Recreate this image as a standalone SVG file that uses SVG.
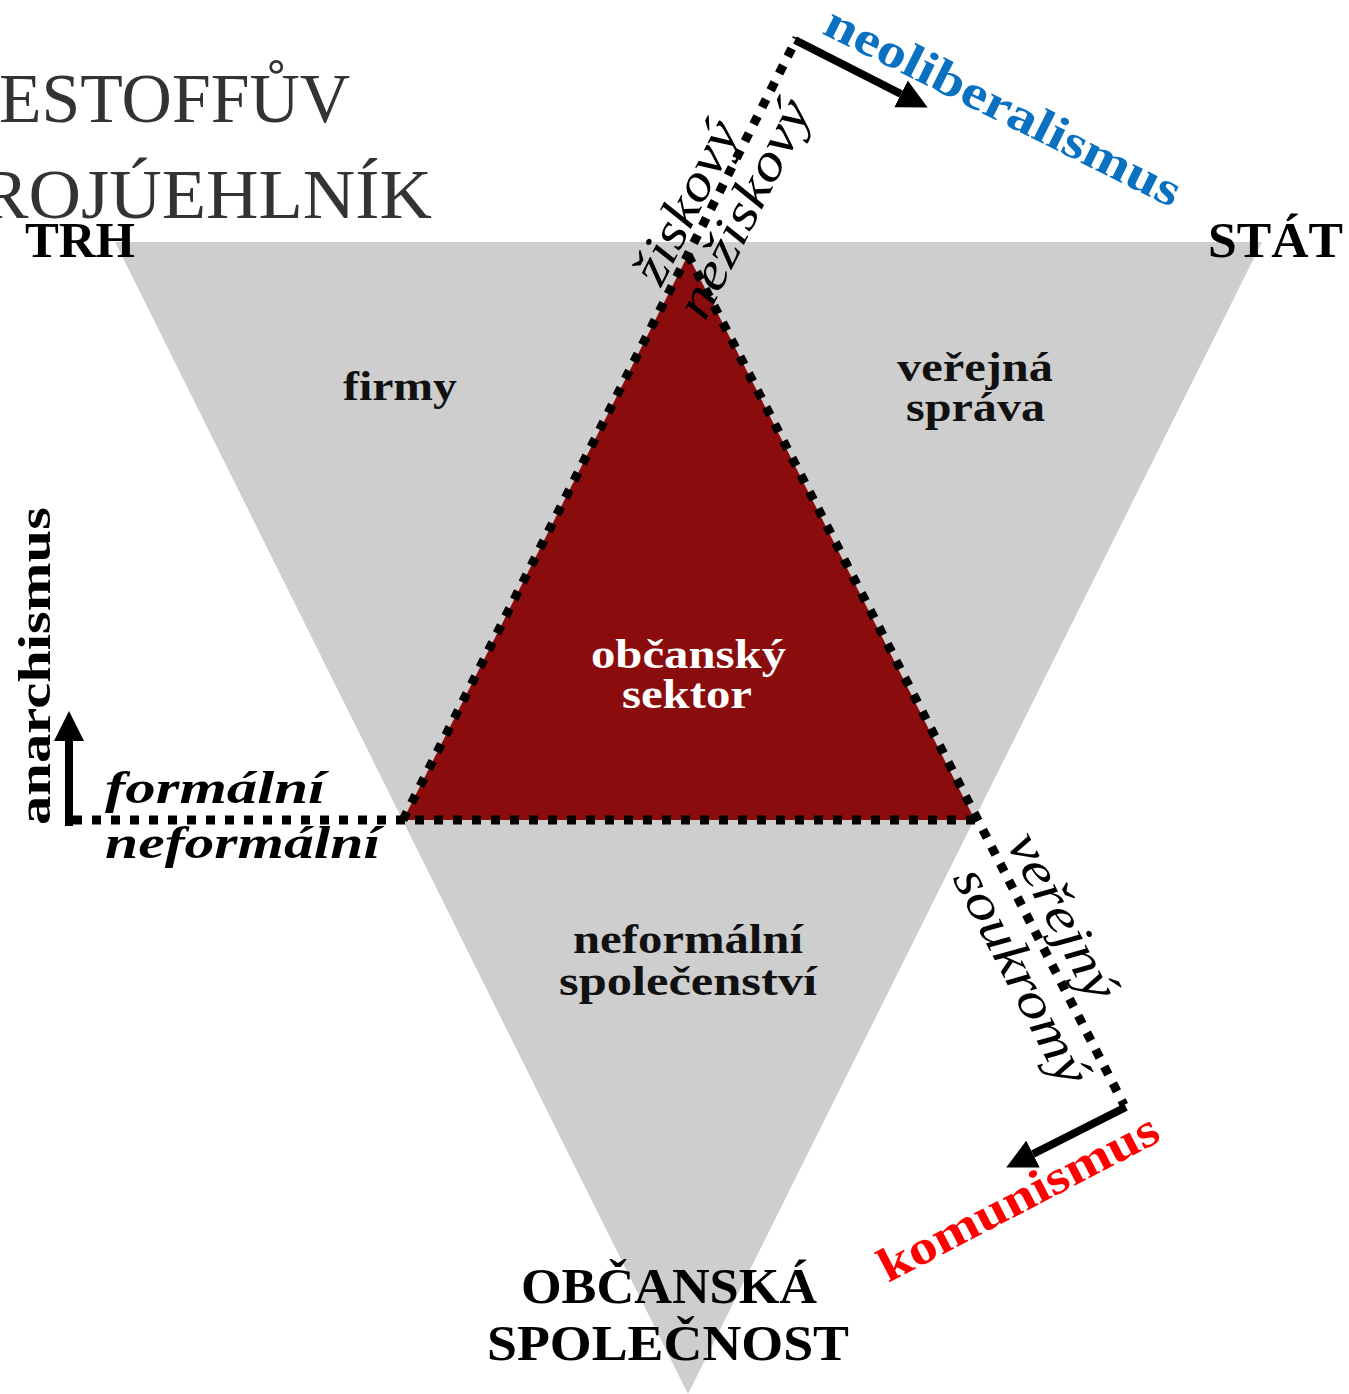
<svg xmlns="http://www.w3.org/2000/svg" width="1349" height="1394" viewBox="0 0 1349 1394">
<style>
text{font-family:"Liberation Serif","Times New Roman",serif;}
.title{font-size:70px;fill:#333333;}
.big{font-size:50px;font-weight:bold;fill:#000;}
.lbl{font-size:42px;font-weight:bold;fill:#111;}
.it{font-size:52px;font-style:italic;fill:#000;}
.bit{font-size:46px;font-style:italic;font-weight:bold;fill:#000;}
.dot{fill:none;stroke:#000;stroke-width:9;stroke-dasharray:9 10;}
.arr{fill:none;stroke:#000;stroke-width:8;}
</style>
<defs>
<marker id="ah" markerUnits="userSpaceOnUse" markerWidth="32" markerHeight="30" refX="0" refY="15" orient="auto">
<path d="M0,0 L30,15 L0,30 z" fill="#000"/>
</marker>
</defs>
<rect width="1349" height="1394" fill="#fff"/>
<g id="title">
<text class="title" x="-1" y="122" textLength="351" lengthAdjust="spacingAndGlyphs">ESTOFFŮV</text>
<text class="title" x="-20" y="218" textLength="452" lengthAdjust="spacingAndGlyphs">ROJÚEHLNÍK</text>
</g>
<g id="outer-triangle">
<polygon points="115,242 1262,242 688,1394" fill="#cecece"/>
</g>
<g id="civic-sector">
<polygon points="688,255 975,820 403,820" fill="#8b0c0c"/>
</g>
<g id="connectors">
<path class="dot" d="M73,820 H975"/>
<path class="dot" d="M403,820 L797,38"/>
<path class="dot" d="M688,255 L1124,1105"/>
<path class="arr" d="M69,826 V741" marker-end="url(#ah)"/>
<path class="arr" d="M795,40 L901,94" marker-end="url(#ah)"/>
<path class="arr" d="M1126,1107 L1033,1154" marker-end="url(#ah)"/>
</g>
<g id="trh"><text class="big" x="25" y="257" textLength="110" lengthAdjust="spacingAndGlyphs">TRH</text></g>
<g id="stat"><text class="big" x="1208" y="257" textLength="135" lengthAdjust="spacingAndGlyphs">STÁT</text></g>
<g id="obcanska-spolecnost">
<text class="big" x="521" y="1303" textLength="296" lengthAdjust="spacingAndGlyphs">OBČANSKÁ</text>
<text class="big" x="487" y="1360" textLength="362" lengthAdjust="spacingAndGlyphs">SPOLEČNOST</text>
</g>
<g id="firmy"><text class="lbl" x="343" y="400" textLength="114" lengthAdjust="spacingAndGlyphs">firmy</text></g>
<g id="verejna-sprava">
<text class="lbl" x="897" y="381" textLength="156" lengthAdjust="spacingAndGlyphs">veřejná</text>
<text class="lbl" x="906" y="421" textLength="139" lengthAdjust="spacingAndGlyphs">správa</text>
</g>
<g id="obcansky-sektor">
<text class="lbl" x="591" y="668" textLength="195" lengthAdjust="spacingAndGlyphs" style="fill:#fff">občanský</text>
<text class="lbl" x="622" y="708" textLength="130" lengthAdjust="spacingAndGlyphs" style="fill:#fff">sektor</text>
</g>
<g id="neformalni-spolecenstvi">
<text class="lbl" x="573" y="953" textLength="230" lengthAdjust="spacingAndGlyphs">neformální</text>
<text class="lbl" x="559" y="995" textLength="258" lengthAdjust="spacingAndGlyphs">společenství</text>
</g>
<g id="axis-labels">
<text class="bit" x="105" y="803" textLength="220" lengthAdjust="spacingAndGlyphs">formální</text>
<text class="bit" x="105" y="858" textLength="275" lengthAdjust="spacingAndGlyphs">neformální</text>
<text class="it" transform="translate(661,288) rotate(-63.2)" textLength="176" lengthAdjust="spacingAndGlyphs">žiskový</text>
<text class="it" transform="translate(705,322) rotate(-63.2)" textLength="238" lengthAdjust="spacingAndGlyphs">nežiskový</text>
<text class="it" transform="translate(1006,843) rotate(62.5)" textLength="182" lengthAdjust="spacingAndGlyphs">veřejný</text>
<text class="it" transform="translate(952,878) rotate(62.5)" textLength="238" lengthAdjust="spacingAndGlyphs">soukromý</text>
</g>
<g id="anarchismus"><text class="big" style="font-size:46px" transform="translate(50,825) rotate(-90)" textLength="318" lengthAdjust="spacingAndGlyphs">anarchismus</text></g>
<g id="neoliberalismus"><text class="big" style="font-size:48px;fill:#0a70c0" transform="translate(821,33) rotate(26.5)" textLength="392" lengthAdjust="spacingAndGlyphs">neoliberalismus</text></g>
<g id="komunismus"><text class="big" style="font-size:48px;fill:#ff0000" transform="translate(888,1283) rotate(-27.5)" textLength="310" lengthAdjust="spacingAndGlyphs">komunismus</text></g>
</svg>
